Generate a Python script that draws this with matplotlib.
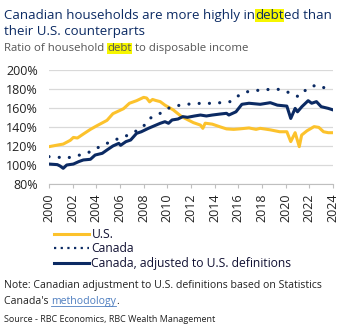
import matplotlib
matplotlib.use("Agg")
import matplotlib.pyplot as plt
from matplotlib.lines import Line2D
from matplotlib.patches import Rectangle

plt.rcParams["font.family"] = ["Open Sans", "DejaVu Sans"]

NAVY = "#0b2a63"
YELLOW = "#fcc22c"
HILITE = "#f6f600"
GREY_TXT = "#555555"
LINK = "#4f7fc0"

# ratio of household debt to disposable income, %
us_year = [2000, 2000.9, 2001.2, 2001.8, 2002.06, 2002.4, 2002.9, 2003.5, 2004.0, 2004.9,
           2005.4, 2006.3, 2006.8, 2007.4, 2008.0, 2008.25, 2008.5, 2008.75, 2009.0, 2009.4,
           2009.8, 2010.5, 2011.2, 2012.2, 2012.8, 2013.0, 2013.2, 2013.8, 2014.5, 2015.0,
           2015.6, 2016.1, 2016.9, 2017.5, 2017.85, 2018.7, 2019.5, 2020.1, 2020.43, 2020.8,
           2021.15, 2021.35, 2021.8, 2022.4, 2022.8, 2023.2, 2023.6, 2024.0]
us_val = [119.3, 121.4, 122, 126, 129, 128.4, 132.6, 137.5, 141, 147,
          154, 159.3, 165, 167.7, 171.2, 170.5, 166.5, 169, 168, 166.7,
          163, 158, 151, 144.6, 142, 138.6, 144, 143, 140, 138,
          137.5, 138, 139, 137.5, 138.6, 137, 135, 135, 124.6, 134,
          119.3, 131.5, 136, 140.4, 139.6, 135, 134, 134]

ca_year = [2000, 2000.9, 2001.35, 2002.06, 2002.6, 2003.2, 2004.0, 2004.9, 2005.7, 2006.5,
           2007.4, 2008.0, 2008.5, 2009.4, 2010.2, 2011.07, 2011.9, 2012.8, 2013.6, 2014.5,
           2015.3, 2016.1, 2016.8, 2017.0, 2017.85, 2018.7, 2019.5, 2020.1, 2020.65, 2021.1,
           2021.5, 2022.2, 2022.8, 2023.35, 2024.0]
ca_val = [108.8, 108, 107, 108.8, 110.5, 112.3, 117.5, 122.8, 127, 130.5,
          136, 141, 149, 154.4, 160.4, 163, 164.2, 164.9, 164.9, 165.6,
          166.7, 173.7, 177.2, 177.2, 179, 179.6, 179.6, 177.2, 173.7, 172,
          177.2, 183, 184, 180.7, 179.3]

adj_year = [2000, 2000.7, 2000.93, 2001.2, 2001.5, 2002.06, 2002.5, 2002.9, 2003.5, 2003.9,
            2004.5, 2004.9, 2005.4, 2005.9, 2006.05, 2006.5, 2006.9, 2007.4, 2007.8, 2008.4,
            2009.4, 2009.8, 2010.1, 2010.4, 2010.9, 2011.3, 2011.7, 2012.3, 2012.8, 2013.3,
            2013.8, 2014.5, 2015.0, 2015.2, 2015.8, 2016.3, 2016.9, 2017.85, 2018.7, 2019.3,
            2020.1, 2020.43, 2020.8, 2021.0, 2021.37, 2021.9, 2022.2, 2022.6, 2023.0, 2023.6,
            2024.0]
adj_val = [101, 100.4, 99, 96.5, 100, 101, 103.5, 105.3, 106, 110.5,
           112.3, 115.8, 120, 122.8, 120.7, 124.6, 126.3, 133.3, 135, 138.6,
           143.9, 145.6, 143.9, 147.4, 148.4, 150.9, 150.2, 151.6, 152.6, 151.6,
           152.6, 153.7, 154.4, 152.6, 156, 163.9, 165, 163.9, 165.6, 163,
           162, 149, 159.6, 156, 161.4, 167.7, 165, 166.7, 161.4, 159.6,
           158]

x_ticks = list(range(2000, 2025, 2))
y_ticks = [80, 100, 120, 140, 160, 180, 200]

fig = plt.figure(figsize=(3.46, 3.30), dpi=100)
ax = fig.add_axes([49 / 346, 1 - 184 / 330, 284 / 346, 114 / 330])

ax.plot(us_year, us_val, color=YELLOW, lw=2.2, zorder=3)
ax.plot(ca_year, ca_val, color=NAVY, lw=2.3, ls=(0, (0.01, 3.2)),
        dash_capstyle="round", zorder=3)
ax.plot(adj_year, adj_val, color=NAVY, lw=2.2, zorder=4)

ax.set_xlim(2000, 2024)
ax.set_ylim(80, 200)
ax.set_xticks(x_ticks)
ax.set_xticklabels([str(t) for t in x_ticks], rotation=90, fontsize=9, color="#222222")
ax.set_yticks(y_ticks)
ax.set_yticklabels([f"{t}%" for t in y_ticks], fontsize=9, color="#222222")
ax.tick_params(axis="y", length=0, pad=8)
ax.tick_params(axis="x", length=3, color="#bfbfbf", pad=4)
ax.grid(axis="y", color="#d9d9d9", lw=0.9)
ax.set_axisbelow(True)
for side in ["top", "right", "left"]:
    ax.spines[side].set_visible(False)
ax.spines["bottom"].set_color("#bfbfbf")

# legend: dotted entry gets a tighter dot pattern like the original
leg_handles = [
    Line2D([], [], color=YELLOW, lw=2.2),
    Line2D([], [], color=NAVY, lw=1.6, ls=(0, (1, 2.0))),
    Line2D([], [], color=NAVY, lw=2.2),
]
leg_labels = ["U.S.", "Canada", "Canada, adjusted to U.S. definitions"]
fig.legend(leg_handles, leg_labels, loc="upper left", bbox_to_anchor=(54 / 346, 1 - 228 / 330),
           frameon=False, fontsize=8.7, handlelength=2.9, handletextpad=0.2,
           labelspacing=0.12, borderaxespad=0, borderpad=0, labelcolor="#111133")

renderer = fig.canvas.get_renderer()
W, H = fig.bbox.width, fig.bbox.height


def width_of(s, **kw):
    # advance width of s in figure fraction (bars keep trailing spaces counted)
    a = fig.text(0, 0, "|" + s + "|", alpha=0, **kw).get_window_extent(renderer).width
    b = fig.text(0, 0, "||", alpha=0, **kw).get_window_extent(renderer).width
    return (a - b) / W


def text_run(x, y, parts, **kw):
    # draw a line in pieces: None = plain, "hl" = yellow highlight, "link" = blue underlined
    prefix = ""
    for s, style in parts:
        x0 = x + width_of(prefix, **kw) if prefix else x
        x1 = x + width_of(prefix + s, **kw)
        opts = dict(kw)
        if style == "link":
            opts["color"] = LINK
        t = fig.text(x0, y, s, **opts)
        if style == "hl":
            tb = t.get_window_extent(renderer)
            fig.add_artist(Rectangle((x0, tb.y0 / H), x1 - x0, (tb.y1 - tb.y0) / H,
                                     transform=fig.transFigure, facecolor=HILITE,
                                     edgecolor="none", zorder=0))
        if style == "link":
            fy = y - 2.2 / H
            fig.add_artist(Line2D([x0, x1], [fy, fy], color=LINK, lw=0.6))
        prefix += s


title_kw = dict(fontsize=9.5, color=NAVY, va="baseline", zorder=2)
text_run(4 / 346, 1 - 19 / 330,
         [("Canadian households are more highly in", None), ("debt", "hl"), ("ed than", None)],
         **title_kw)
text_run(4 / 346, 1 - 35 / 330, [("their U.S. counterparts", None)], **title_kw)
sub_kw = dict(fontsize=8.2, color=GREY_TXT, va="baseline", zorder=2)
text_run(4 / 346, 1 - 51 / 330,
         [("Ratio of household ", None), ("debt", "hl"), (" to disposable income", None)], **sub_kw)

note_kw = dict(fontsize=7.6, color="#222222", va="baseline", zorder=2)
text_run(4 / 346, 1 - 288 / 330,
         [("Note: Canadian adjustment to U.S. definitions based on Statistics", None)], **note_kw)
text_run(4 / 346, 1 - 304 / 330,
         [("Canada's ", None), ("methodology", "link"), (".", None)], **note_kw)
text_run(4 / 346, 1 - 322 / 330,
         [("Source - RBC Economics, RBC Wealth Management", None)],
         fontsize=6.5, color="#222222", va="baseline")

fig.savefig("out.png", dpi=100)
